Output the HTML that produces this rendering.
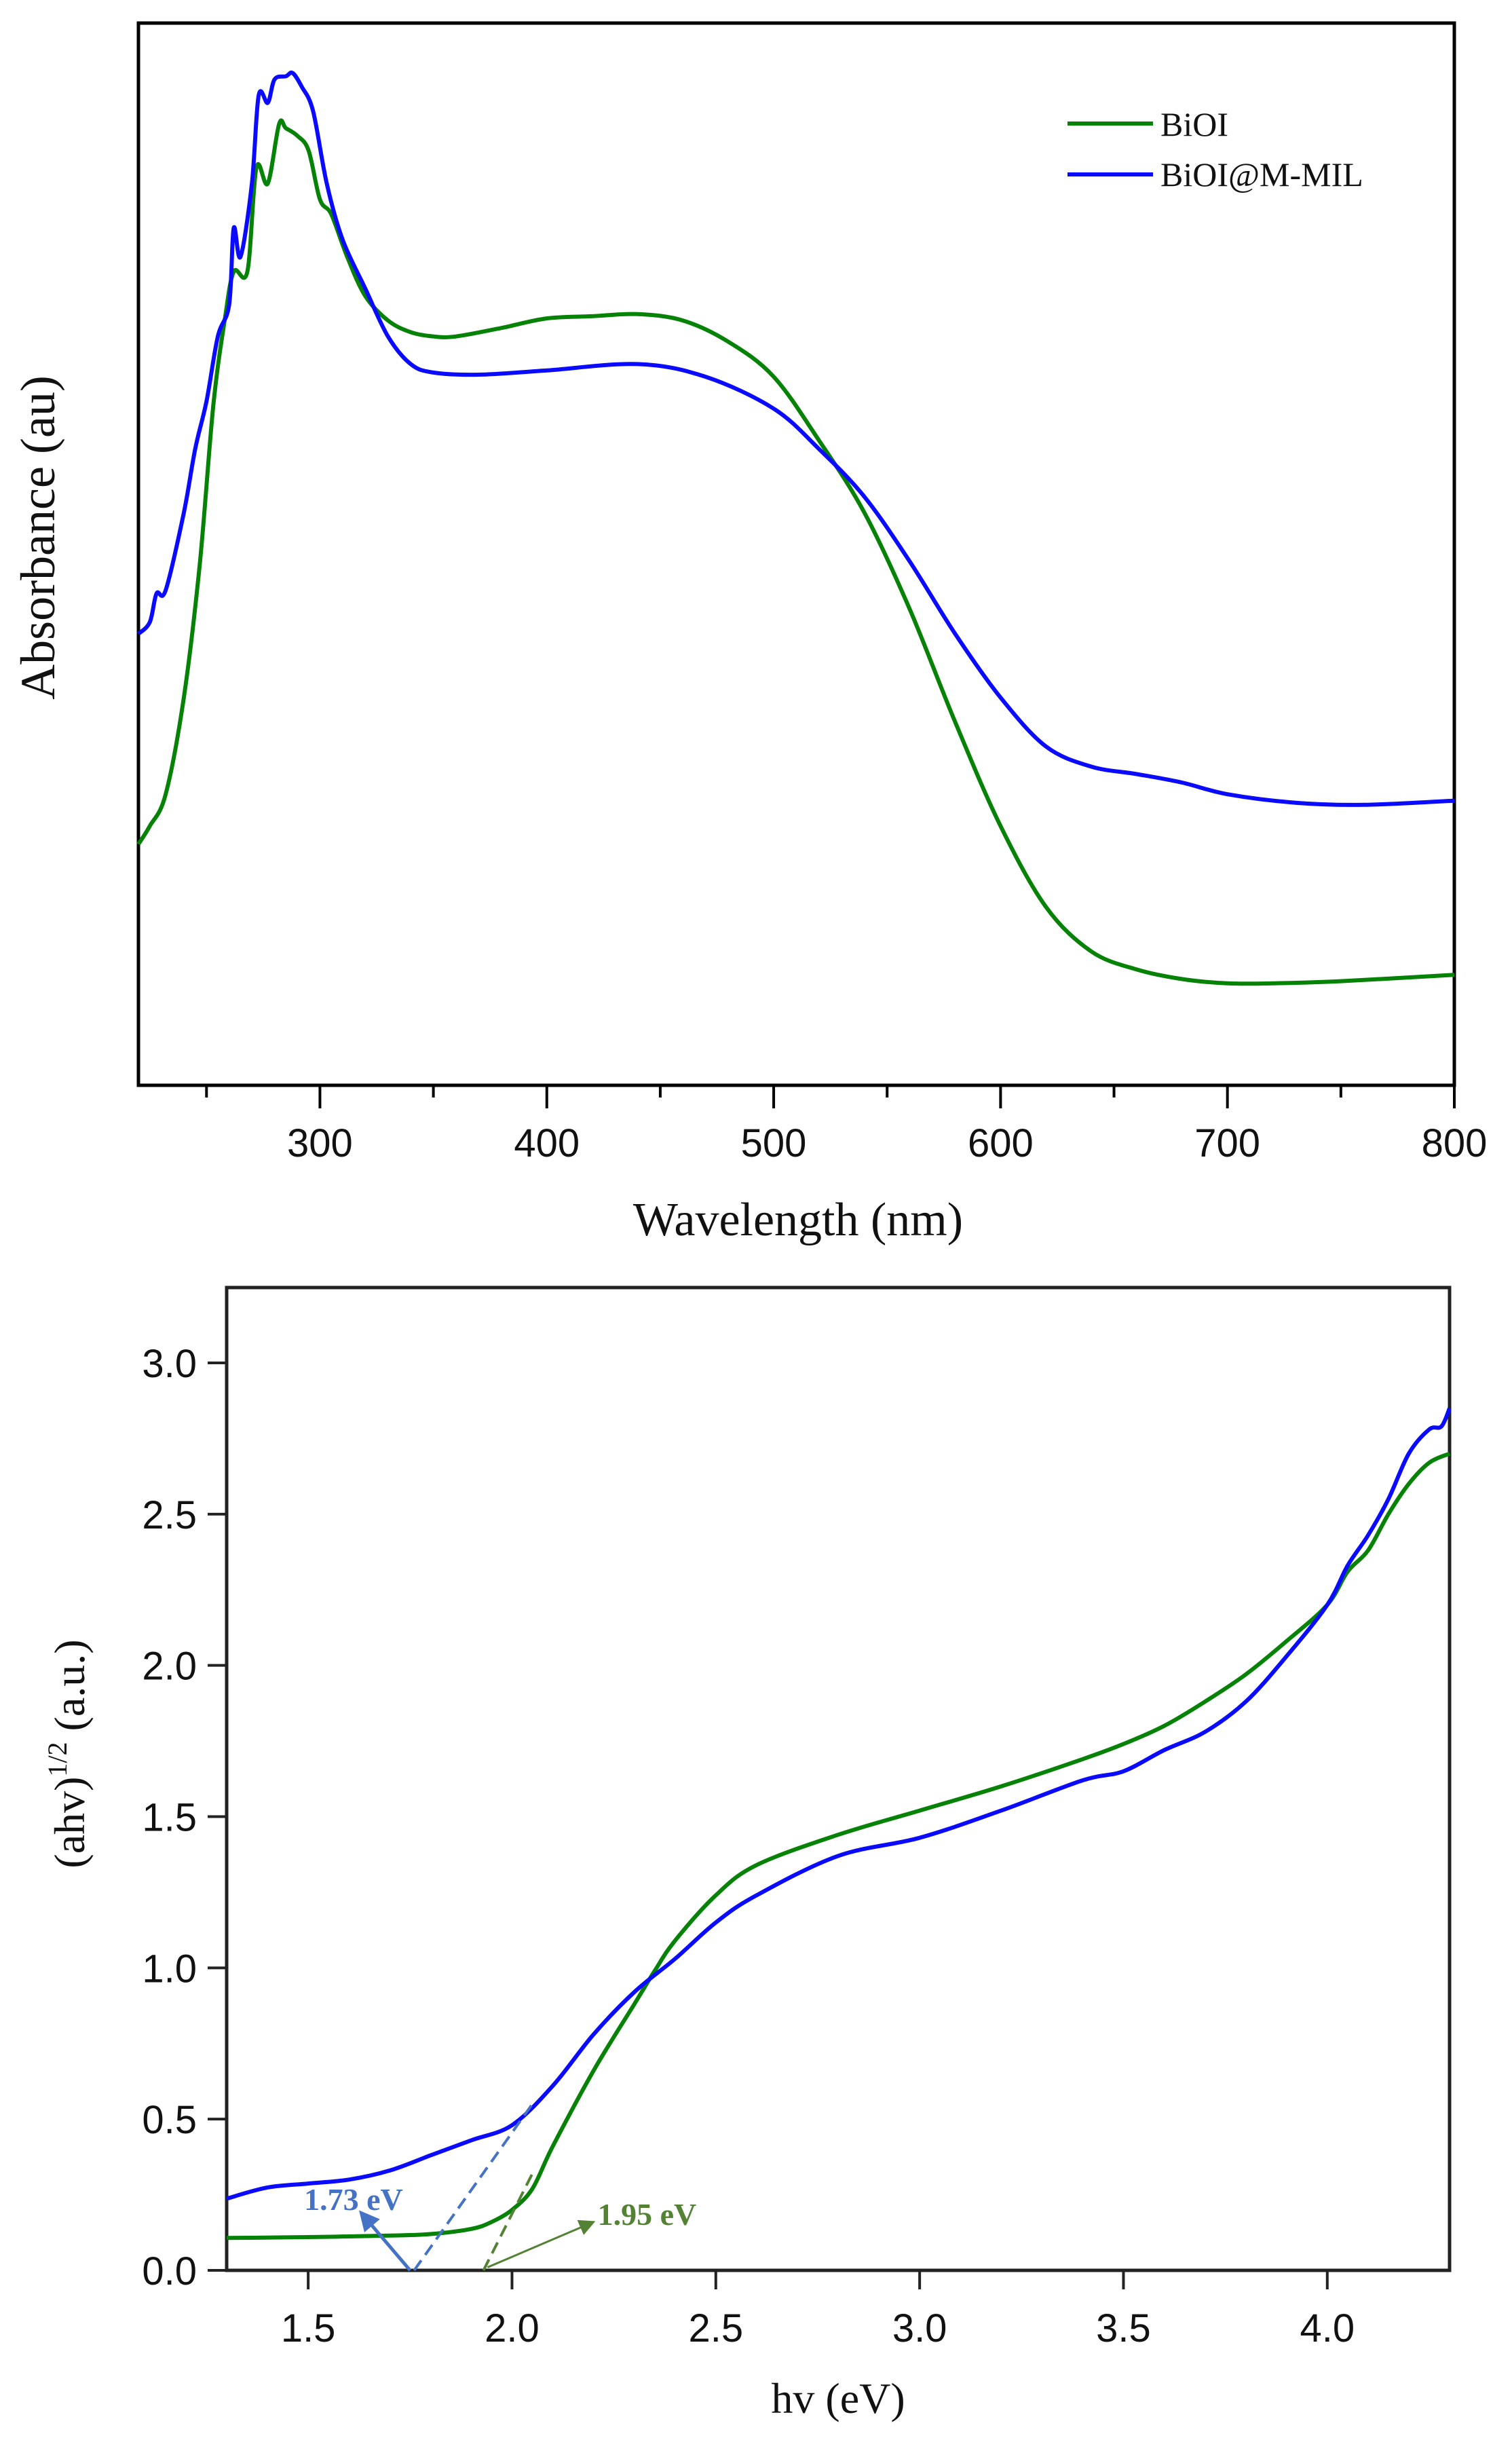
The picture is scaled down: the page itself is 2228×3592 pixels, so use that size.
<!DOCTYPE html>
<html><head><meta charset="utf-8">
<style>
html,body{margin:0;padding:0;background:#fff;}
svg{display:block;}
</style></head>
<body>
<svg id="fig" width="2228" height="3592" viewBox="0 0 2228 3592" xmlns="http://www.w3.org/2000/svg"></svg>
<script>
// ---------- Top chart data (absorbance, arbitrary units 0-100) ----------
const wlBiOI = [220,225,232,240,247,253,258,262,268,272,277,282,285,290,295,300,305,312,320,330,340,350,360,380,400,420,440,460,480,500,520,540,560,580,600,620,640,660,680,700,720,750,800];
const absBiOI = [22.7,24.4,27.4,36.5,49,64,72,76.6,76.6,86.4,84.9,90.5,90.1,89.4,88,83.4,82,78,74.3,72,70.9,70.5,70.5,71.3,72.2,72.4,72.6,72,70,66.7,60.7,53.9,44.8,34.2,24.4,16.8,12.6,10.9,10,9.6,9.6,9.8,10.4];
const wlMIL = [220,225,228,232,240,245,250,255,260,262,265,270,273,277,280,285,288,292,297,303,310,320,330,340,350,370,400,440,470,500,520,540,560,580,600,620,640,660,680,700,730,760,800];
const absMIL = [42.5,43.6,46.3,46.6,53.9,59.9,64.4,70.5,73.5,80.7,78,84.9,93.2,92.5,94.7,95,95.3,94,91.7,84.9,79.6,75,70.5,67.9,67.1,66.9,67.3,67.9,66.7,63.7,59.9,55.4,49.3,42.5,36.5,31.9,30,29.3,28.5,27.4,26.6,26.4,26.8];
const topXTicks = [300,400,500,600,700,800];
const topXMinor = [250,350,450,550,650,750];

// ---------- Bottom chart data ----------
const evMIL = [1.3,1.4,1.5,1.6,1.7,1.8,1.9,2.0,2.1,2.2,2.3,2.4,2.5,2.6,2.8,3.0,3.2,3.4,3.5,3.6,3.7,3.8,3.9,4.0,4.05,4.1,4.15,4.2,4.25,4.28,4.3];
const tMIL = [0.237,0.274,0.287,0.30,0.33,0.38,0.43,0.48,0.61,0.78,0.92,1.03,1.15,1.24,1.37,1.43,1.52,1.62,1.65,1.72,1.78,1.88,2.03,2.2,2.33,2.43,2.55,2.70,2.78,2.79,2.85];
const evBiOI = [1.3,1.5,1.7,1.8,1.9,1.95,2.0,2.05,2.1,2.2,2.3,2.35,2.4,2.5,2.6,2.8,3.0,3.2,3.4,3.5,3.6,3.7,3.8,3.9,4.0,4.05,4.1,4.15,4.2,4.25,4.3];
const tBiOI = [0.107,0.11,0.115,0.12,0.137,0.16,0.2,0.27,0.41,0.66,0.88,0.99,1.09,1.24,1.34,1.44,1.52,1.60,1.69,1.74,1.80,1.88,1.97,2.08,2.2,2.31,2.38,2.50,2.60,2.67,2.70];
const botXTicks = [1.5,2.0,2.5,3.0,3.5,4.0];
const botYTicks = [0.0,0.5,1.0,1.5,2.0,2.5,3.0];
const gapMIL = [1.76,0,2.05,0.55];
const gapBiOI = [1.93,0,2.05,0.32];

const NS = "http://www.w3.org/2000/svg";
const svg = document.getElementById('fig');
function mk(tag, attrs, parent){
  const e = document.createElementNS(NS, tag);
  for (const k in attrs) e.setAttribute(k, attrs[k]);
  (parent||svg).appendChild(e);
  return e;
}
const defs = mk('defs',{});
const m1 = mk('marker',{id:'arrB',markerWidth:'6',markerHeight:'6',refX:'5',refY:'3',orient:'auto',markerUnits:'strokeWidth'},defs);
mk('path',{d:'M0,0 L6,3 L0,6 z',fill:'#4472c4'},m1);
const m2 = mk('marker',{id:'arrG',markerWidth:'8',markerHeight:'8',refX:'7',refY:'4',orient:'auto',markerUnits:'strokeWidth'},defs);
mk('path',{d:'M0,0 L8,4 L0,8 z',fill:'#548235'},m2);

// ---------- Top chart ----------
const T = {l:204, r:2143, t:34, b:1599};
const tx = v => T.l + (v-220)/(800-220)*(T.r-T.l);
const ty = v => T.b - v/100*(T.b-T.t);

let e;
e = mk('rect',{x:T.l,y:T.t,width:T.r-T.l,height:T.b-T.t,fill:'none',stroke:'#000','stroke-width':5});



topXMinor.forEach(v=>{
  e = mk('line',{x1:tx(v),x2:tx(v),y1:T.b,y2:T.b+18,stroke:'#000','stroke-width':4});
  
  
});
topXTicks.forEach(v=>{
  e = mk('line',{x1:tx(v),x2:tx(v),y1:T.b,y2:T.b+34,stroke:'#000','stroke-width':4});
  
  
  e = mk('text',{x:tx(v),y:1704,'text-anchor':'middle','font-family':'Liberation Sans, sans-serif','font-size':'58',fill:'#111'});
  e.textContent = v;
  
  
});
e = mk('text',{x:1176,y:1820,'text-anchor':'middle','font-family':'Liberation Serif, serif','font-size':'70',fill:'#111'});
e.textContent = 'Wavelength (nm)';


e = mk('text',{x:0,y:0,'text-anchor':'middle','font-family':'Liberation Serif, serif','font-size':'72',fill:'#111',transform:'translate(80,792) rotate(-90)'});
e.textContent = 'Absorbance (au)';



function smoothPath(pts){
  let d = 'M'+pts[0][0].toFixed(1)+','+pts[0][1].toFixed(1);
  for (let i=0;i<pts.length-1;i++){
    const p0 = pts[i-1]||pts[i], p1 = pts[i], p2 = pts[i+1], p3 = pts[i+2]||pts[i+1];
    const c1x = p1[0]+(p2[0]-p0[0])/6, c1y = p1[1]+(p2[1]-p0[1])/6;
    const c2x = p2[0]-(p3[0]-p1[0])/6, c2y = p2[1]-(p3[1]-p1[1])/6;
    d += ' C'+c1x.toFixed(1)+','+c1y.toFixed(1)+' '+c2x.toFixed(1)+','+c2y.toFixed(1)+' '+p2[0].toFixed(1)+','+p2[1].toFixed(1);
  }
  return d;
}
function curve(xs, ys, fx, fy, color, name){
  const pts = xs.map((x,i)=>[fx(x), fy(ys[i])]);
  const p = mk('path',{d:smoothPath(pts),fill:'none',stroke:color,'stroke-width':6,'stroke-linejoin':'round'});
  
  
}
curve(wlBiOI, absBiOI, tx, ty, '#068206', 'biol-absorbance-line');
curve(wlMIL, absMIL, tx, ty, '#0a0aff', 'biol-mmil-absorbance-line');

// legend
e = mk('line',{x1:1573,x2:1699,y1:182,y2:182,stroke:'#068206','stroke-width':6});


e = mk('text',{x:1710,y:200,'font-family':'Liberation Serif, serif','font-size':'50',fill:'#111'});
e.textContent = 'BiOI';


e = mk('line',{x1:1573,x2:1699,y1:257,y2:257,stroke:'#0a0aff','stroke-width':6});


e = mk('text',{x:1710,y:256+18,'font-family':'Liberation Serif, serif','font-size':'50',fill:'#111'});
e.textContent = 'BiOI@M-MIL';



// ---------- Bottom chart ----------
const B = {l:334, r:2136, t:1897, b:3345};
const bx = v => B.l + (v-1.3)/(4.3-1.3)*(B.r-B.l);
const by = v => B.b - v/3.0*(B.b-2008);

e = mk('rect',{x:B.l,y:B.t,width:B.r-B.l,height:B.b-B.t,fill:'none',stroke:'#222','stroke-width':5});


botXTicks.forEach(v=>{
  e = mk('line',{x1:bx(v),x2:bx(v),y1:B.b,y2:B.b+28,stroke:'#222','stroke-width':4});
  
  
  e = mk('text',{x:bx(v),y:3450,'text-anchor':'middle','font-family':'Liberation Sans, sans-serif','font-size':'58',fill:'#111'});
  e.textContent = v.toFixed(1);
  
  
});
botYTicks.forEach(v=>{
  e = mk('line',{x1:B.l-28,x2:B.l,y1:by(v),y2:by(v),stroke:'#222','stroke-width':4});
  
  
  e = mk('text',{x:290,y:by(v)+21,'text-anchor':'end','font-family':'Liberation Sans, sans-serif','font-size':'58',fill:'#111'});
  e.textContent = v.toFixed(1);
  
  
});
e = mk('text',{x:1235,y:3555,'text-anchor':'middle','font-family':'Liberation Serif, serif','font-size':'64',fill:'#111'});
e.textContent = 'hv (eV)';


e = mk('text',{x:0,y:0,'text-anchor':'middle','font-family':'Liberation Serif, serif','font-size':'64',fill:'#111',transform:'translate(124,2584) rotate(-90)'});


const t1 = mk('tspan',{},e); t1.textContent='(ahv)';
const t2 = mk('tspan',{dy:'-26','font-size':'40'},e); t2.textContent='1/2';
const t3 = mk('tspan',{dy:'26'},e); t3.textContent=' (a.u.)';

curve(evBiOI, tBiOI, bx, by, '#068206', 'biol-tauc-line');
curve(evMIL, tMIL, bx, by, '#0a0aff', 'biol-mmil-tauc-line');

e = mk('line',{x1:bx(gapMIL[0]),y1:by(gapMIL[1]),x2:bx(gapMIL[2]),y2:by(gapMIL[3]),stroke:'#4472c4','stroke-width':4,'stroke-dasharray':'18,10'});


e = mk('line',{x1:bx(gapBiOI[0]),y1:by(gapBiOI[1]),x2:bx(gapBiOI[2]),y2:by(gapBiOI[3]),stroke:'#548235','stroke-width':4,'stroke-dasharray':'18,10'});


e = mk('line',{x1:bx(1.75),y1:by(0.0),x2:bx(1.63),y2:by(0.19),stroke:'#4472c4','stroke-width':5,'marker-end':'url(#arrB)'});


e = mk('line',{x1:bx(1.94),y1:by(0.01),x2:bx(2.2),y2:by(0.16),stroke:'#548235','stroke-width':3,'marker-end':'url(#arrG)'});


e = mk('text',{x:bx(1.49),y:by(0.2),'font-family':'Liberation Serif, serif','font-size':'46','font-weight':'bold',fill:'#4472c4'});
e.textContent = '1.73 eV';


e = mk('text',{x:bx(2.21),y:by(0.15),'font-family':'Liberation Serif, serif','font-size':'46','font-weight':'bold',fill:'#548235'});
e.textContent = '1.95 eV';


</script>
</body></html>
